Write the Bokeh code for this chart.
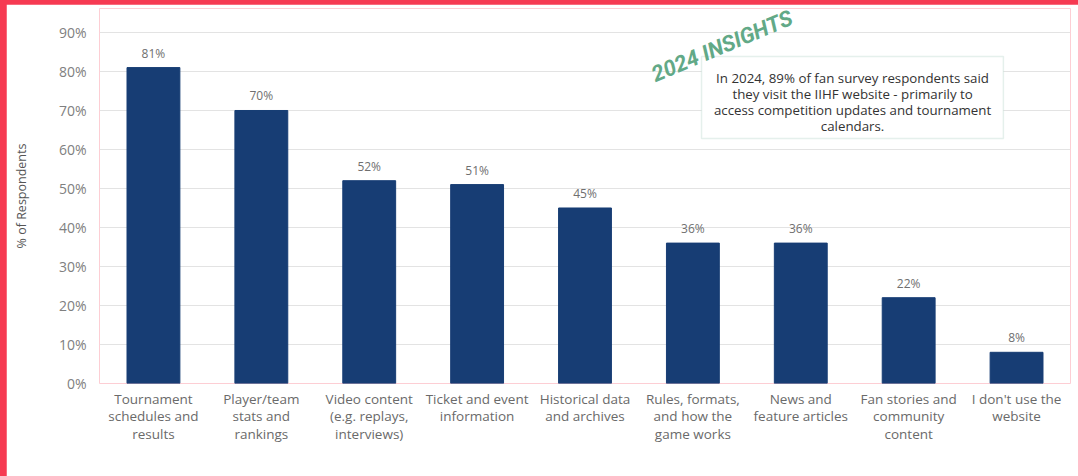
from bokeh.plotting import figure
from bokeh.models import ColumnDataSource, LabelSet, Label, BoxAnnotation, FactorRange
from bokeh.core.properties import value
from bokeh.embed import file_html
from bokeh.resources import INLINE

categories = [
    "Tournament\nschedules and\nresults",
    "Player/team\nstats and\nrankings",
    "Video content\n(e.g. replays,\ninterviews)",
    "Ticket and event\ninformation",
    "Historical data\nand archives",
    "Rules, formats,\nand how the\ngame works",
    "News and\nfeature articles",
    "Fan stories and\ncommunity\ncontent",
    "I don't use the\nwebsite",
]
values = [81, 70, 52, 51, 45, 36, 36, 22, 8]
value_labels = [f"{v}%" for v in values]
y_ticks = [0, 10, 20, 30, 40, 50, 60, 70, 80, 90]
y_tick_labels = {t: f"{t}%" for t in y_ticks}
y_title = "% of Respondents"
insight_title = "2024 INSIGHTS"
insight_text = ("In 2024, 89% of fan survey respondents said\n"
                "they visit the IIHF website - primarily to\n"
                "access competition updates and tournament\n"
                "calendars.")

FONT = "Open Sans"

source = ColumnDataSource(dict(cat=categories, val=values, lab=value_labels))

p = figure(
    x_range=FactorRange(*categories, range_padding=0),
    y_range=(0, 96.15),
    width=1072, height=472,
    output_backend="svg", toolbar_location=None,
    min_border_left=93, min_border_right=8, min_border_top=4, min_border_bottom=93,
)
p.background_fill_color = "white"
p.border_fill_color = "white"
p.outline_line_color = None

p.vbar(x="cat", top="val", width=0.49, source=source,
       fill_color="#173d74", line_color="#173d74")

p.add_layout(LabelSet(x="cat", y="val", text="lab", source=source,
                      text_align="center", text_baseline="bottom",
                      y_offset=6, text_font_size=value("12px"), text_color="#6f6f6f",
                      text_font=value(FONT)))

# axes
p.xaxis.axis_line_color = None
p.xaxis.major_tick_line_color = None
p.xaxis.minor_tick_line_color = None
p.xaxis.major_tick_out = 0
p.xaxis.major_tick_in = 0
p.xaxis.major_label_text_font = FONT
p.xaxis.major_label_text_font_size = "13.5px"
p.xaxis.major_label_text_color = "#6a6a6a"
p.xaxis.major_label_standoff = 6
p.xaxis.major_label_text_line_height = 0.98
p.xgrid.grid_line_color = None

p.yaxis.ticker = y_ticks
p.yaxis.major_label_overrides = y_tick_labels
p.yaxis.axis_line_color = None
p.yaxis.major_tick_line_color = None
p.yaxis.minor_tick_line_color = None
p.yaxis.major_tick_out = 0
p.yaxis.major_tick_in = 0
p.yaxis.major_label_text_font = FONT
p.yaxis.major_label_text_font_size = "14px"
p.yaxis.major_label_text_color = "#808080"
p.yaxis.major_label_standoff = 13
p.yaxis.axis_label = y_title
p.yaxis.axis_label_text_font = FONT
p.yaxis.axis_label_text_font_size = "12.5px"
p.yaxis.axis_label_text_font_style = "normal"
p.yaxis.axis_label_text_color = "#555555"
p.yaxis.axis_label_standoff = 26
p.ygrid.grid_line_color = "#e3e3e3"
p.ygrid.grid_line_width = 1

# insight box
p.add_layout(BoxAnnotation(left=5.58, right=8.378, bottom=62.8, top=83.85,
                           fill_color="white", fill_alpha=1.0,
                           line_color="#a9cdbf", line_width=1.5))
p.add_layout(Label(x=6.98, y=72.2, text=insight_text, text_align="center",
                   text_baseline="middle", text_font=FONT, text_font_size="13.3px",
                   text_color="#333333", text_line_height=0.9))
p.add_layout(Label(x=5.77, y=86.5, text=insight_title, text_align="center",
                   text_baseline="middle", angle=0.4, text_font="Roboto",
                   text_font_size="22px", text_font_style="bold italic",
                   text_color="#62a987"))

html = file_html(p, INLINE)
html = html.replace("</head>",
    "<style>html,body{margin:0 !important;} body{background:#f63a52 !important;"
    "padding:4px 0 0 6px !important;box-sizing:border-box !important;}</style></head>", 1)
open("out.html", "w").write(html)
